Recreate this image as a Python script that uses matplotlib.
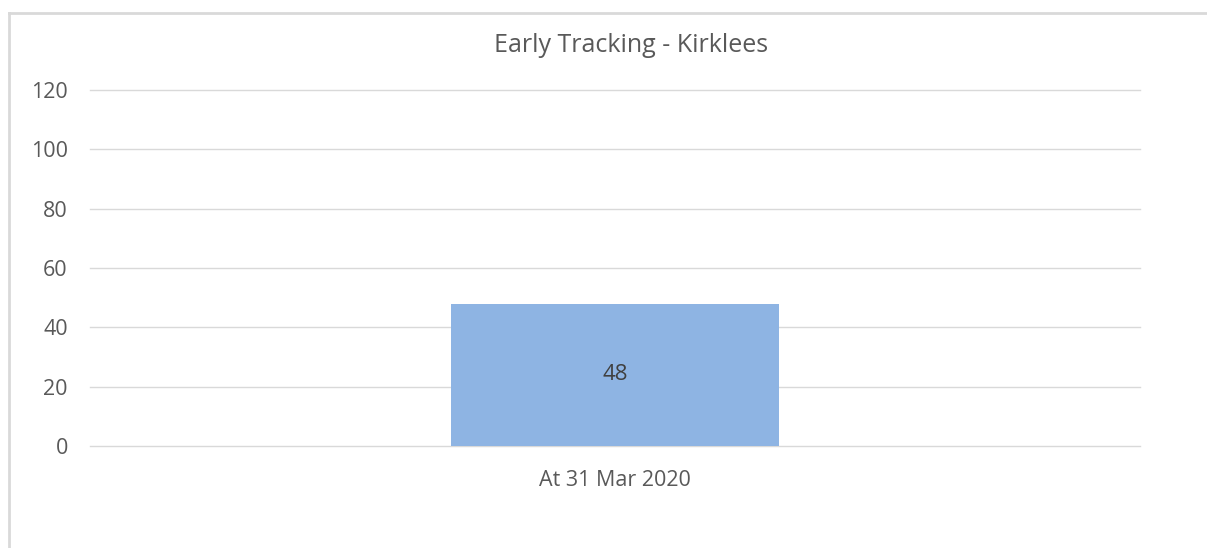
import matplotlib
matplotlib.use("Agg")
import matplotlib.pyplot as plt
from matplotlib.lines import Line2D

# data
categories = ["At 31 Mar 2020"]
values = [48]
yticks = [0, 20, 40, 60, 80, 100, 120]
title = "Early Tracking - Kirklees"

plt.rcParams['font.family'] = ['Open Sans', 'DejaVu Sans']
text_color = "#595959"

fig = plt.figure(figsize=(12.07, 5.48), dpi=100)
W, H = 1207, 548
ax = fig.add_axes([90 / W, (H - 446) / H, 1050 / W, (446 - 90) / H])

bars = ax.bar(range(len(categories)), values, width=0.313, color="#8EB4E3", zorder=3)
for b, v in zip(bars, values):
    ax.text(b.get_x() + b.get_width() / 2, v / 2, str(v), ha="center", va="center",
            fontsize=16, color="#404040", zorder=4)

ax.set_xlim(-0.5, len(categories) - 0.5)
ax.set_ylim(0, 120)
ax.set_yticks(yticks)
ax.set_xticks(range(len(categories)))
ax.set_xticklabels(categories)
ax.grid(axis="y", color="#D9D9D9", linewidth=1, zorder=0)
for gl in ax.get_ygridlines():
    gl.set_clip_on(False)
for s in ax.spines.values():
    s.set_visible(False)
ax.tick_params(length=0, labelsize=15.5, colors=text_color)
ax.tick_params(axis="y", pad=16)
ax.tick_params(axis="x", pad=17)

fig.text(631 / W, 1 - 45 / H, title, ha="center", va="center", fontsize=18, color=text_color)

# chart border (top and left visible)
fig.add_artist(Line2D([9 / W, 1], [1 - 13 / H, 1 - 13 / H], color="#D9D9D9", lw=2, transform=fig.transFigure))
fig.add_artist(Line2D([9 / W, 9 / W], [0, 1 - 13 / H], color="#D9D9D9", lw=2, transform=fig.transFigure))

fig.savefig("out.png", dpi=100)
